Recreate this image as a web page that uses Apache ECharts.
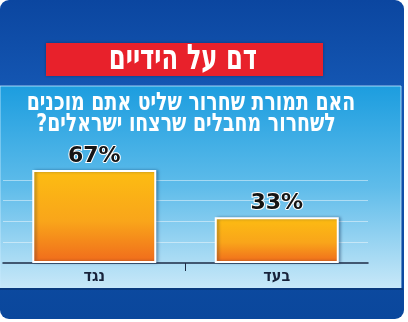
<!DOCTYPE html>
<html><head><meta charset="utf-8">
<script src="https://cdn.jsdelivr.net/npm/echarts@6/dist/echarts.min.js"></script>
<style>html,body{margin:0;padding:0;background:#fff}#c{width:408px;height:322px}</style>
</head><body><div id="c"></div>
<script>
const heading = 'דם על הידיים';
const questionLines = ['האם תמורת שחרור שליט אתם מוכנים', 'לשחרור מחבלים שרצחו ישראלים?\u200F'];
const categories = ['נגד', 'בעד'];
const values = [67, 33];

const chart = echarts.init(document.getElementById('c'), null, {renderer: 'canvas'});
const hebFont = '"DejaVu Sans Condensed", "DejaVu Sans", sans-serif';
const shadowText = {shadowColor: 'rgba(0,20,60,0.85)', shadowBlur: 2, shadowOffsetX: 1, shadowOffsetY: 1};
chart.setOption({
  animation: false,
  backgroundColor: '#ffffff',
  grid: {left: 3, right: 40, top: 159, bottom: 59},
  xAxis: [{
    type: 'category', data: categories,
    axisLine: {lineStyle: {color: '#1c2b45', width: 1.5}},
    axisTick: {show: false},
    axisLabel: {color: '#17223a', fontFamily: hebFont, fontWeight: 'bold', fontSize: 16, margin: 6}
  }, {
    type: 'value', position: 'bottom', min: 0, max: 2, interval: 1,
    axisLine: {show: false}, axisLabel: {show: false}, splitLine: {show: false},
    axisTick: {show: true, customValues: [1], length: 8, lineStyle: {color: '#1c2b45', width: 1}}
  }],
  yAxis: {
    type: 'value', min: 0, max: 75, interval: 15,
    axisLabel: {show: false}, axisLine: {show: false}, axisTick: {show: false},
    splitLine: {show: true, showMinLine: false, showMaxLine: false, lineStyle: {color: 'rgba(255,255,255,0.45)', width: 1}}
  },
  graphic: [
    {type: 'rect', z: -10, shape: {x: 0, y: 0, width: 404, height: 319, r: 9},
     style: {fill: {type: 'linear', x: 0, y: 0, x2: 0, y2: 1, colorStops: [{offset: 0, color: '#0b46a0'}, {offset: 0.27, color: '#1456b2'}, {offset: 1, color: '#0a479c'}]}}},
    {type: 'rect', z: -9, shape: {x: 0, y: 86, width: 401, height: 202},
     style: {fill: {type: 'linear', x: 0, y: 0, x2: 0, y2: 1, colorStops: [{offset: 0, color: '#1c9ddf'}, {offset: 0.5, color: '#5fbcea'}, {offset: 1, color: '#c8e8f8'}]}, stroke: 'rgba(200,235,255,0.8)', lineWidth: 1}},
    {type: 'rect', z: -9, shape: {x: 0, y: 288, width: 403, height: 2}, style: {fill: '#0a3a7e'}},
    {type: 'rect', z: -8, shape: {x: 46, y: 43, width: 277, height: 33},
     style: {fill: '#e8212b', shadowColor: 'rgba(0,0,0,0.3)', shadowBlur: 3}},
    {type: 'text', z: 10, x: 183, y: 60, scaleY: 1.3, originY: 0,
     style: {text: heading, fill: '#ffffff', font: 'bold 27px ' + hebFont, textAlign: 'center', textVerticalAlign: 'middle'}},
    {type: 'text', z: 10, x: 191, y: 103, scaleY: 1.2,
     style: Object.assign({text: questionLines[0], fill: '#ffffff', font: 'bold 21px ' + hebFont, textAlign: 'center', textVerticalAlign: 'middle'}, shadowText)},
    {type: 'text', z: 10, x: 186, y: 124, scaleY: 1.2,
     style: Object.assign({text: questionLines[1], fill: '#ffffff', font: 'bold 21px ' + hebFont, textAlign: 'center', textVerticalAlign: 'middle'}, shadowText)}
  ],
  series: [{
    type: 'bar', data: values, barWidth: 124,
    itemStyle: {
      color: {type: 'linear', x: 0, y: 0, x2: 0, y2: 1, colorStops: [{offset: 0, color: '#fdbd12'}, {offset: 0.55, color: '#f9a51a'}, {offset: 1, color: '#f06a1c'}]},
      borderColor: '#ffffff', borderWidth: 2,
      shadowColor: 'rgba(0,30,70,0.35)', shadowBlur: 3, shadowOffsetX: 2
    },
    label: {show: true, position: 'top', distance: 3, formatter: '{c}%', color: '#151515',
      fontFamily: '"DejaVu Sans", sans-serif', fontWeight: 'bold', fontSize: 22,
      textBorderColor: '#ffffff', textBorderWidth: 2}
  }]
});
</script></body></html>
